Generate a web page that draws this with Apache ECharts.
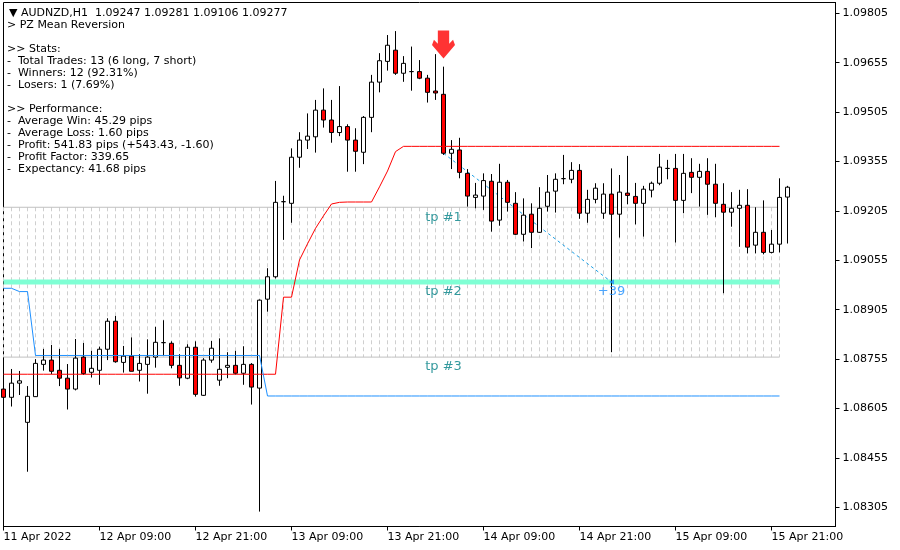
<!DOCTYPE html>
<html><head><meta charset="utf-8">
<script src="https://cdn.jsdelivr.net/npm/echarts@6/dist/echarts.min.js"></script>
<style>html,body{margin:0;padding:0;background:#fff}#c{width:900px;height:550px}</style>
</head><body><div id="c"></div>
<script>
const FONT = 'DejaVu Sans';
const headerLine = '\u25BC AUDNZD,H1  1.09247 1.09281 1.09106 1.09277';
const infoLines = ['> PZ Mean Reversion','','>> Stats:','-  Total Trades: 13 (6 long, 7 short)','-  Winners: 12 (92.31%)','-  Losers: 1 (7.69%)','','>> Performance:','-  Average Win: 45.29 pips','-  Average Loss: 1.60 pips','-  Profit: 541.83 pips (+543.43, -1.60)','-  Profit Factor: 339.65','-  Expectancy: 41.68 pips'];
const xTickLabels = ['11 Apr 2022','12 Apr 09:00','12 Apr 21:00','13 Apr 09:00','13 Apr 21:00','14 Apr 09:00','14 Apr 21:00','15 Apr 09:00','15 Apr 21:00'];
const yTickValues = [1.08305,1.08455,1.08605,1.08755,1.08905,1.09055,1.09205,1.09355,1.09505,1.09655,1.09805];

// [open, close, low, high]
const candles = [
[1.08664,1.08639,1.08625,1.08728],[1.08639,1.08682,1.08611,1.08725],[1.08682,1.08689,1.08646,1.08719],[1.08563,1.08642,1.08413,1.08673],
[1.08641,1.08742,1.08640,1.08755],[1.08739,1.08752,1.08720,1.08786],[1.08752,1.08718,1.08709,1.08798],[1.08721,1.08697,1.08673,1.08786],
[1.08697,1.08664,1.08602,1.08740],[1.08664,1.08758,1.08660,1.08816],[1.08761,1.08711,1.08707,1.08804],[1.08715,1.08727,1.08699,1.08780],
[1.08721,1.08785,1.08677,1.08793],[1.08785,1.08870,1.08752,1.08879],[1.08870,1.08747,1.08744,1.08886],[1.08745,1.08764,1.08714,1.08795],
[1.08764,1.08718,1.08718,1.08821],[1.08721,1.08742,1.08687,1.08770],[1.08739,1.08761,1.08650,1.08815],[1.08761,1.08806,1.08729,1.08853],
[1.08805,1.08805,1.08766,1.08873],[1.08803,1.08736,1.08727,1.08809],[1.08736,1.08698,1.08674,1.08770],[1.08697,1.08791,1.08694,1.08800],
[1.08791,1.08648,1.08641,1.08809],[1.08645,1.08752,1.08643,1.08758],[1.08752,1.08788,1.08744,1.08810],[1.08691,1.08724,1.08674,1.08818],
[1.08730,1.08736,1.08697,1.08776],[1.08736,1.08712,1.08708,1.08780],[1.08712,1.08739,1.08677,1.08794],[1.08739,1.08670,1.08617,1.08743],
[1.08667,1.08934,1.08292,1.08936],[1.08937,1.09005,1.08899,1.09031],[1.09005,1.09231,1.09000,1.09296],[1.09233,1.09233,1.09117,1.09251],
[1.09228,1.09368,1.09169,1.09395],[1.09368,1.09420,1.09336,1.09444],[1.09420,1.09432,1.09393,1.09501],[1.09430,1.09511,1.09382,1.09542],
[1.09511,1.09481,1.09458,1.09577],[1.09481,1.09443,1.09412,1.09542],[1.09443,1.09461,1.09432,1.09584],[1.09461,1.09420,1.09324,1.09468],
[1.09420,1.09386,1.09324,1.09456],[1.09383,1.09489,1.09347,1.09493],[1.09489,1.09596,1.09444,1.09618],[1.09596,1.09661,1.09565,1.09684],
[1.09659,1.09708,1.09631,1.09739],[1.09693,1.09623,1.09618,1.09751],[1.09623,1.09653,1.09597,1.09675],[1.09628,1.09628,1.09570,1.09704],
[1.09628,1.09608,1.09605,1.09663],[1.09608,1.09565,1.09534,1.09618],[1.09569,1.09563,1.09542,1.09681],[1.09559,1.09380,1.09375,1.09643],
[1.09380,1.09392,1.09332,1.09420],[1.09390,1.09322,1.09304,1.09427],[1.09319,1.09250,1.09218,1.09332],[1.09246,1.09253,1.09213,1.09290],
[1.09250,1.09297,1.09208,1.09319],[1.09295,1.09174,1.09142,1.09317],[1.09177,1.09292,1.09160,1.09348],[1.09292,1.09231,1.09203,1.09299],
[1.09228,1.09134,1.09132,1.09262],[1.09134,1.09192,1.09112,1.09243],[1.09195,1.09140,1.09092,1.09228],[1.09140,1.09213,1.09138,1.09277],
[1.09219,1.09262,1.09203,1.09314],[1.09265,1.09301,1.09200,1.09319],[1.09303,1.09303,1.09286,1.09375],[1.09301,1.09328,1.09289,1.09353],
[1.09328,1.09198,1.09181,1.09347],[1.09198,1.09240,1.09169,1.09269],[1.09240,1.09274,1.09228,1.09289],[1.09198,1.09256,1.09181,1.09289],
[1.09256,1.09195,1.08776,1.09334],[1.09195,1.09262,1.09124,1.09314],[1.09259,1.09252,1.09225,1.09372],[1.09249,1.09228,1.09164,1.09290],
[1.09228,1.09271,1.09127,1.09281],[1.09268,1.09289,1.09246,1.09294],[1.09289,1.09338,1.09283,1.09378],[1.09334,1.09334,1.09301,1.09360],
[1.09334,1.09237,1.09109,1.09378],[1.09237,1.09319,1.09198,1.09378],[1.09322,1.09307,1.09259,1.09365],[1.09307,1.09325,1.09218,1.09348],
[1.09325,1.09286,1.09193,1.09365],[1.09286,1.09228,1.09186,1.09348],[1.09225,1.09201,1.08955,1.09289],[1.09201,1.09213,1.09157,1.09262],
[1.09213,1.09222,1.09096,1.09269],[1.09222,1.09095,1.09076,1.09271],[1.09101,1.09140,1.09076,1.09216],[1.09140,1.09079,1.09073,1.09237],
[1.09079,1.09104,1.09076,1.09147],[1.09104,1.09246,1.09079,1.09304],[1.09247,1.09277,1.09106,1.09281]
];

// red mean line (bars 0..97)
const meanLine = [
1.08709,1.08709,1.08709,1.08709,1.08709,1.08709,1.08709,1.08709,1.08709,1.08709,
1.08709,1.08709,1.08709,1.08709,1.08709,1.08709,1.08709,1.08709,1.08709,1.08709,
1.08709,1.08709,1.08709,1.08709,1.08709,1.08709,1.08709,1.08709,1.08709,1.08709,
1.08709,1.08709,1.08709,1.08709,1.08709,1.08943,1.08943,1.09056,1.09105,1.09152,
1.09190,1.09226,1.09231,1.09232,1.09232,1.09232,1.09232,1.09278,1.09326,1.09385,
1.09401,1.09401,1.09401,1.09401,1.09401,1.09401,1.09401,1.09401,1.09401,1.09401,
1.09401,1.09401,1.09401,1.09401,1.09401,1.09401,1.09401,1.09401,1.09401,1.09401,
1.09401,1.09401,1.09401,1.09401,1.09401,1.09401,1.09401,1.09401,1.09401,1.09401,
1.09401,1.09401,1.09401,1.09401,1.09401,1.09401,1.09401,1.09401,1.09401,1.09401,
1.09401,1.09401,1.09401,1.09401,1.09401,1.09401,1.09401,1.09401
];
// blue band line (bars 0..97)
const bandLine = [
1.08970,1.08970,1.08960,1.08960,1.08766,1.08766,1.08766,1.08766,1.08766,1.08766,
1.08766,1.08766,1.08766,1.08766,1.08766,1.08766,1.08766,1.08766,1.08766,1.08766,
1.08766,1.08766,1.08766,1.08766,1.08766,1.08766,1.08766,1.08766,1.08766,1.08766,
1.08766,1.08766,1.08766,1.08643,1.08643,1.08643,1.08643,1.08643,1.08643,1.08643,
1.08643,1.08643,1.08643,1.08643,1.08643,1.08643,1.08643,1.08643,1.08643,1.08643,
1.08643,1.08643,1.08643,1.08643,1.08643,1.08643,1.08643,1.08643,1.08643,1.08643,
1.08643,1.08643,1.08643,1.08643,1.08643,1.08643,1.08643,1.08643,1.08643,1.08643,
1.08643,1.08643,1.08643,1.08643,1.08643,1.08643,1.08643,1.08643,1.08643,1.08643,
1.08643,1.08643,1.08643,1.08643,1.08643,1.08643,1.08643,1.08643,1.08643,1.08643,
1.08643,1.08643,1.08643,1.08643,1.08643,1.08643,1.08643,1.08643
];

const tpLabels = ['tp #1','tp #2','tp #3'];
const tpValues = [1.09216, 1.08989, 1.08761];
const objectsEndIdx = 97;
const signalIdx = 55;
const arrowPrice = 1.0971;
const tradeIdx = [55, 76];
const tradePrice = [1.09380, 1.08989];
const tradeLabel = '+39';
const lastPrice = 1.09277;

// hourly bar times (H1) + empty right margin
const MONTHS = ['Jan','Feb','Mar','Apr','May','Jun','Jul','Aug','Sep','Oct','Nov','Dec'];
const startUTC = Date.UTC(2022, 3, 11, 21);
const categories = [];
for (let i = 0; i < candles.length + 6; i++) {
  const d = new Date(startUTC + i * 3600000);
  categories.push(d.getUTCDate() + ' ' + MONTHS[d.getUTCMonth()] + ' ' + String(d.getUTCHours()).padStart(2, '0') + ':00');
}

const zoneData = candles.slice(0, objectsEndIdx + 1).map((c, i) => [i, tpValues[0], tpValues[2]]);
const hLine = (v) => [[0, v], [objectsEndIdx, v]];

const chart = echarts.init(document.getElementById('c'), null, {renderer: 'canvas'});
chart.setOption({
  animation: false,
  backgroundColor: '#ffffff',
  textStyle: {fontFamily: FONT},
  grid: {left: 3.5, right: 64.5, top: 2.5, bottom: 23.5, show: true, borderColor: '#000', borderWidth: 1, backgroundColor: 'transparent'},
  xAxis: {
    type: 'category', data: categories, boundaryGap: false,
    axisLine: {lineStyle: {color: '#000', width: 1}},
    axisTick: {show: true, interval: 11, length: 4, lineStyle: {color: '#000'}},
    axisLabel: {interval: 11, align: 'left', margin: 5, color: '#000', fontFamily: FONT, fontSize: 11,
      formatter: (v, idx) => xTickLabels[Math.round(idx / 12)] || ''},
    splitLine: {show: false}
  },
  yAxis: {
    type: 'value', position: 'right', min: 1.082467, max: 1.098378, scale: true,
    axisLine: {show: true, lineStyle: {color: '#000', width: 1}},
    axisTick: {show: true, length: 4, customValues: yTickValues, lineStyle: {color: '#000'}},
    axisLabel: {customValues: yTickValues, margin: 7, color: '#000', fontFamily: FONT, fontSize: 11,
      formatter: (v) => v.toFixed(5)},
    splitLine: {show: false}
  },
  graphic: [
    {type: 'text', left: 9, top: 7, style: {text: headerLine, font: '11px "DejaVu Sans"', fill: '#000', lineHeight: 12}},
    {type: 'text', left: 7, top: 19, style: {text: infoLines.join('\n'), font: '11px "DejaVu Sans"', fill: '#000', lineHeight: 12}}
  ],
  series: [
    {
      type: 'custom', name: 'zone', z: 1, silent: true,
      data: zoneData, encode: {x: 0, y: [1, 2]},
      renderItem: (params, api) => {
        const a = api.coord([api.value(0), api.value(1)]);
        const b = api.coord([api.value(0), api.value(2)]);
        return {type: 'line', shape: {x1: a[0], y1: a[1], x2: b[0], y2: b[1]},
          style: {stroke: '#cfcfcf', lineWidth: 1, lineDash: [4, 3]}};
      }
    },
    {type: 'line', name: 'tp1', z: 1, silent: true, symbol: 'none', data: hLine(tpValues[0]), lineStyle: {color: '#c0c0c0', width: 1}},
    {type: 'line', name: 'tp3', z: 1, silent: true, symbol: 'none', data: hLine(tpValues[2]), lineStyle: {color: '#c0c0c0', width: 1}},
    {type: 'line', name: 'tp2', z: 1, silent: true, symbol: 'none', data: hLine(tpValues[1]), lineStyle: {color: '#7fffd4', width: 5}},
    {type: 'line', name: 'trade', z: 1, silent: true, symbol: 'none',
      data: [[tradeIdx[0], tradePrice[0]], [tradeIdx[1], tradePrice[1]]],
      lineStyle: {color: '#1a9fe6', width: 1, type: [3, 3]}},
    {
      type: 'candlestick', name: 'AUDNZD', z: 2, barWidth: 4, data: candles,
      itemStyle: {color: '#ffffff', color0: '#ff0000', borderColor: '#000', borderColor0: '#000', borderColorDoji: '#000', borderWidth: 1},
      markLine: {
        silent: true, symbol: ['none', 'none'], animation: false,
        lineStyle: {opacity: 0, width: 0},
        label: {show: true, position: 'end', distance: 1, formatter: () => lastPrice.toFixed(5),
          backgroundColor: '#000', color: '#fff', fontFamily: FONT, fontSize: 11, padding: [2, 4, 1, 5]},
        data: [{yAxis: lastPrice}]
      }
    },
    {type: 'line', name: 'mean', z: 3, silent: true, symbol: 'none', data: meanLine, lineStyle: {color: '#ff0000', width: 1}},
    {type: 'line', name: 'band', z: 3, silent: true, symbol: 'none', data: bandLine, lineStyle: {color: '#1e90ff', width: 1}},
    {
      type: 'scatter', name: 'signal', z: 4, silent: true,
      symbol: 'path://M18,0 L53,0 L53,40 L65,28 L71,44 L35.5,85 L0,44 L6,28 L18,40 Z',
      symbolSize: [23, 28], itemStyle: {color: '#ff0000'},
      data: [[signalIdx, arrowPrice]]
    },
    {
      type: 'scatter', name: 'exitMark', z: 4, silent: true, symbol: 'triangle', symbolRotate: 90,
      symbolSize: 5, itemStyle: {color: '#1e90ff'},
      data: [[tradeIdx[1], tradePrice[1]]]
    },
    {
      type: 'scatter', name: 'tpText', z: 5, silent: true, symbolSize: 1, itemStyle: {color: 'rgba(0,0,0,0)'},
      data: tpValues.map(v => [signalIdx, v]),
      label: {show: true, position: 'inside', offset: [0, 10], color: '#007f84', fontFamily: FONT, fontSize: 13,
        formatter: (p) => tpLabels[p.dataIndex]}
    },
    {
      type: 'scatter', name: 'tradeText', z: 5, silent: true, symbolSize: 1, itemStyle: {color: 'rgba(0,0,0,0)'},
      data: [[tradeIdx[1], tradePrice[1]]],
      label: {show: true, position: 'inside', offset: [0, 10], color: '#1e90ff', fontFamily: FONT, fontSize: 13,
        formatter: () => tradeLabel}
    }
  ]
});
</script></body></html>
